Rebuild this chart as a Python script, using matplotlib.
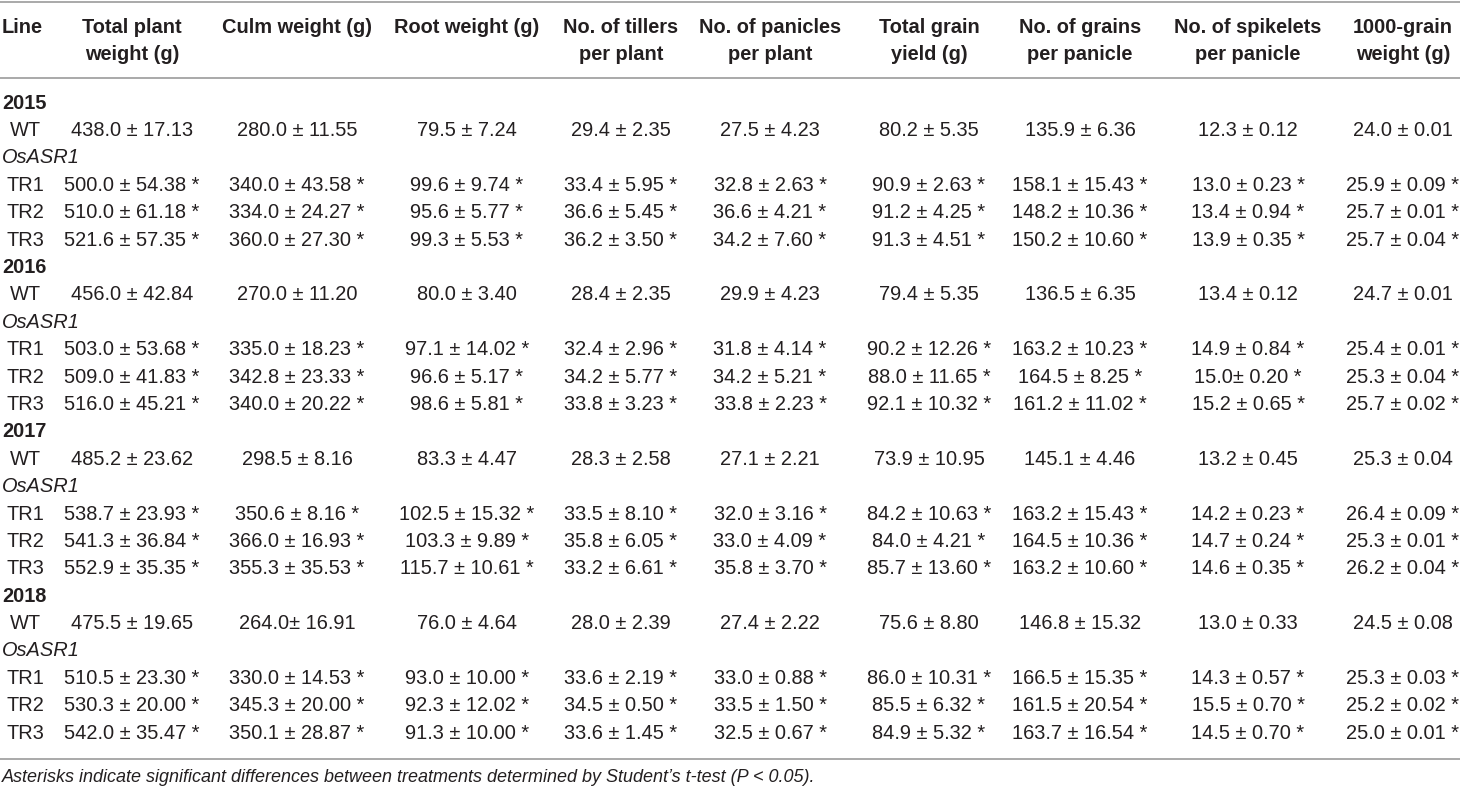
import matplotlib.pyplot as plt

plt.rcParams['font.family'] = ['Liberation Sans', 'DejaVu Sans']

# column headers (two lines where the reference wraps)
headers = ['Total plant\nweight (g)', 'Culm weight (g)', 'Root weight (g)',
           'No. of tillers\nper plant', 'No. of panicles\nper plant',
           'Total grain\nyield (g)', 'No. of grains\nper panicle',
           'No. of spikelets\nper panicle', '1000-grain\nweight (g)']

years = ['2015', '2016', '2017', '2018']
lines = ['WT', 'TR1', 'TR2', 'TR3']
group_label = 'OsASR1'

# (mean, sd) per row: WT, TR1, TR2, TR3 for 2015..2018
total_plant = [(438.0, 17.13), (500.0, 54.38), (510.0, 61.18), (521.6, 57.35),
               (456.0, 42.84), (503.0, 53.68), (509.0, 41.83), (516.0, 45.21),
               (485.2, 23.62), (538.7, 23.93), (541.3, 36.84), (552.9, 35.35),
               (475.5, 19.65), (510.5, 23.30), (530.3, 20.00), (542.0, 35.47)]
culm = [(280.0, 11.55), (340.0, 43.58), (334.0, 24.27), (360.0, 27.30),
        (270.0, 11.20), (335.0, 18.23), (342.8, 23.33), (340.0, 20.22),
        (298.5, 8.16), (350.6, 8.16), (366.0, 16.93), (355.3, 35.53),
        (264.0, 16.91), (330.0, 14.53), (345.3, 20.00), (350.1, 28.87)]
root = [(79.5, 7.24), (99.6, 9.74), (95.6, 5.77), (99.3, 5.53),
        (80.0, 3.40), (97.1, 14.02), (96.6, 5.17), (98.6, 5.81),
        (83.3, 4.47), (102.5, 15.32), (103.3, 9.89), (115.7, 10.61),
        (76.0, 4.64), (93.0, 10.00), (92.3, 12.02), (91.3, 10.00)]
tillers = [(29.4, 2.35), (33.4, 5.95), (36.6, 5.45), (36.2, 3.50),
           (28.4, 2.35), (32.4, 2.96), (34.2, 5.77), (33.8, 3.23),
           (28.3, 2.58), (33.5, 8.10), (35.8, 6.05), (33.2, 6.61),
           (28.0, 2.39), (33.6, 2.19), (34.5, 0.50), (33.6, 1.45)]
panicles = [(27.5, 4.23), (32.8, 2.63), (36.6, 4.21), (34.2, 7.60),
            (29.9, 4.23), (31.8, 4.14), (34.2, 5.21), (33.8, 2.23),
            (27.1, 2.21), (32.0, 3.16), (33.0, 4.09), (35.8, 3.70),
            (27.4, 2.22), (33.0, 0.88), (33.5, 1.50), (32.5, 0.67)]
grain_yield = [(80.2, 5.35), (90.9, 2.63), (91.2, 4.25), (91.3, 4.51),
               (79.4, 5.35), (90.2, 12.26), (88.0, 11.65), (92.1, 10.32),
               (73.9, 10.95), (84.2, 10.63), (84.0, 4.21), (85.7, 13.60),
               (75.6, 8.80), (86.0, 10.31), (85.5, 6.32), (84.9, 5.32)]
grains = [(135.9, 6.36), (158.1, 15.43), (148.2, 10.36), (150.2, 10.60),
          (136.5, 6.35), (163.2, 10.23), (164.5, 8.25), (161.2, 11.02),
          (145.1, 4.46), (163.2, 15.43), (164.5, 10.36), (163.2, 10.60),
          (146.8, 15.32), (166.5, 15.35), (161.5, 20.54), (163.7, 16.54)]
spikelets = [(12.3, 0.12), (13.0, 0.23), (13.4, 0.94), (13.9, 0.35),
             (13.4, 0.12), (14.9, 0.84), (15.0, 0.20), (15.2, 0.65),
             (13.2, 0.45), (14.2, 0.23), (14.7, 0.24), (14.6, 0.35),
             (13.0, 0.33), (14.3, 0.57), (15.5, 0.70), (14.5, 0.70)]
grain_weight = [(24.0, 0.01), (25.9, 0.09), (25.7, 0.01), (25.7, 0.04),
                (24.7, 0.01), (25.4, 0.01), (25.3, 0.04), (25.7, 0.02),
                (25.3, 0.04), (26.4, 0.09), (25.3, 0.01), (26.2, 0.04),
                (24.5, 0.08), (25.3, 0.03), (25.2, 0.02), (25.0, 0.01)]
columns = [total_plant, culm, root, tillers, panicles, grain_yield,
           grains, spikelets, grain_weight]

# cells printed without a space before the "±" in the source (row, col)
no_space = [(12, 1), (6, 7)]

footnote = ("Asterisks indicate significant differences between treatments "
            "determined by Student\u2019s t-test (P < 0.05).")

# layout, in pixels
W, H = 1460, 789
col_x = [132, 297, 467, 621, 770, 929, 1080, 1248, 1403]
line_x = 25
first_row = 103
row_h = 27.4
txt = '#231f20'
rule = '#a3a3a3'
fs = 14.4

fig = plt.figure(figsize=(W / 100, H / 100), dpi=100)
ax = fig.add_axes([0, 0, 1, 1])
ax.set_xlim(0, W)
ax.set_ylim(H, 0)
ax.axis('off')

# rules
for y in [1.5, 78, 759]:
    ax.axhline(y, color=rule, lw=1.3)

# header
ax.text(2, 27, 'Line', fontsize=fs, fontweight='bold', color=txt,
        ha='left', va='center')
for x, h in zip(col_x, headers):
    for k, part in enumerate(h.split('\n')):
        ax.text(x, 27 + 27 * k, part, fontsize=fs, fontweight='bold',
                color=txt, ha='center', va='center')

# body
r = 0
for yi, year in enumerate(years):
    y = first_row + r * row_h
    ax.text(2, y, year, fontsize=fs, fontweight='bold', color=txt,
            ha='left', va='center')
    r += 1
    for li, line in enumerate(lines):
        if li == 1:
            y = first_row + r * row_h
            ax.text(2, y, group_label, fontsize=fs, style='italic',
                    color=txt, ha='left', va='center')
            r += 1
        y = first_row + r * row_h
        ax.text(line_x, y, line, fontsize=fs, color=txt,
                ha='center', va='center')
        idx = yi * 4 + li
        for ci, col in enumerate(columns):
            m, s = col[idx]
            sep = '± ' if (idx, ci) in no_space else ' ± '
            label = f'{m:.1f}{sep}{s:.2f}'
            if line != 'WT':
                label += ' *'
            ax.text(col_x[ci], y, label, fontsize=fs, color=txt,
                    ha='center', va='center')
        r += 1

ax.text(2, 777, footnote, fontsize=13, style='italic', color=txt,
        ha='left', va='center')

fig.savefig('out.png', dpi=100)
